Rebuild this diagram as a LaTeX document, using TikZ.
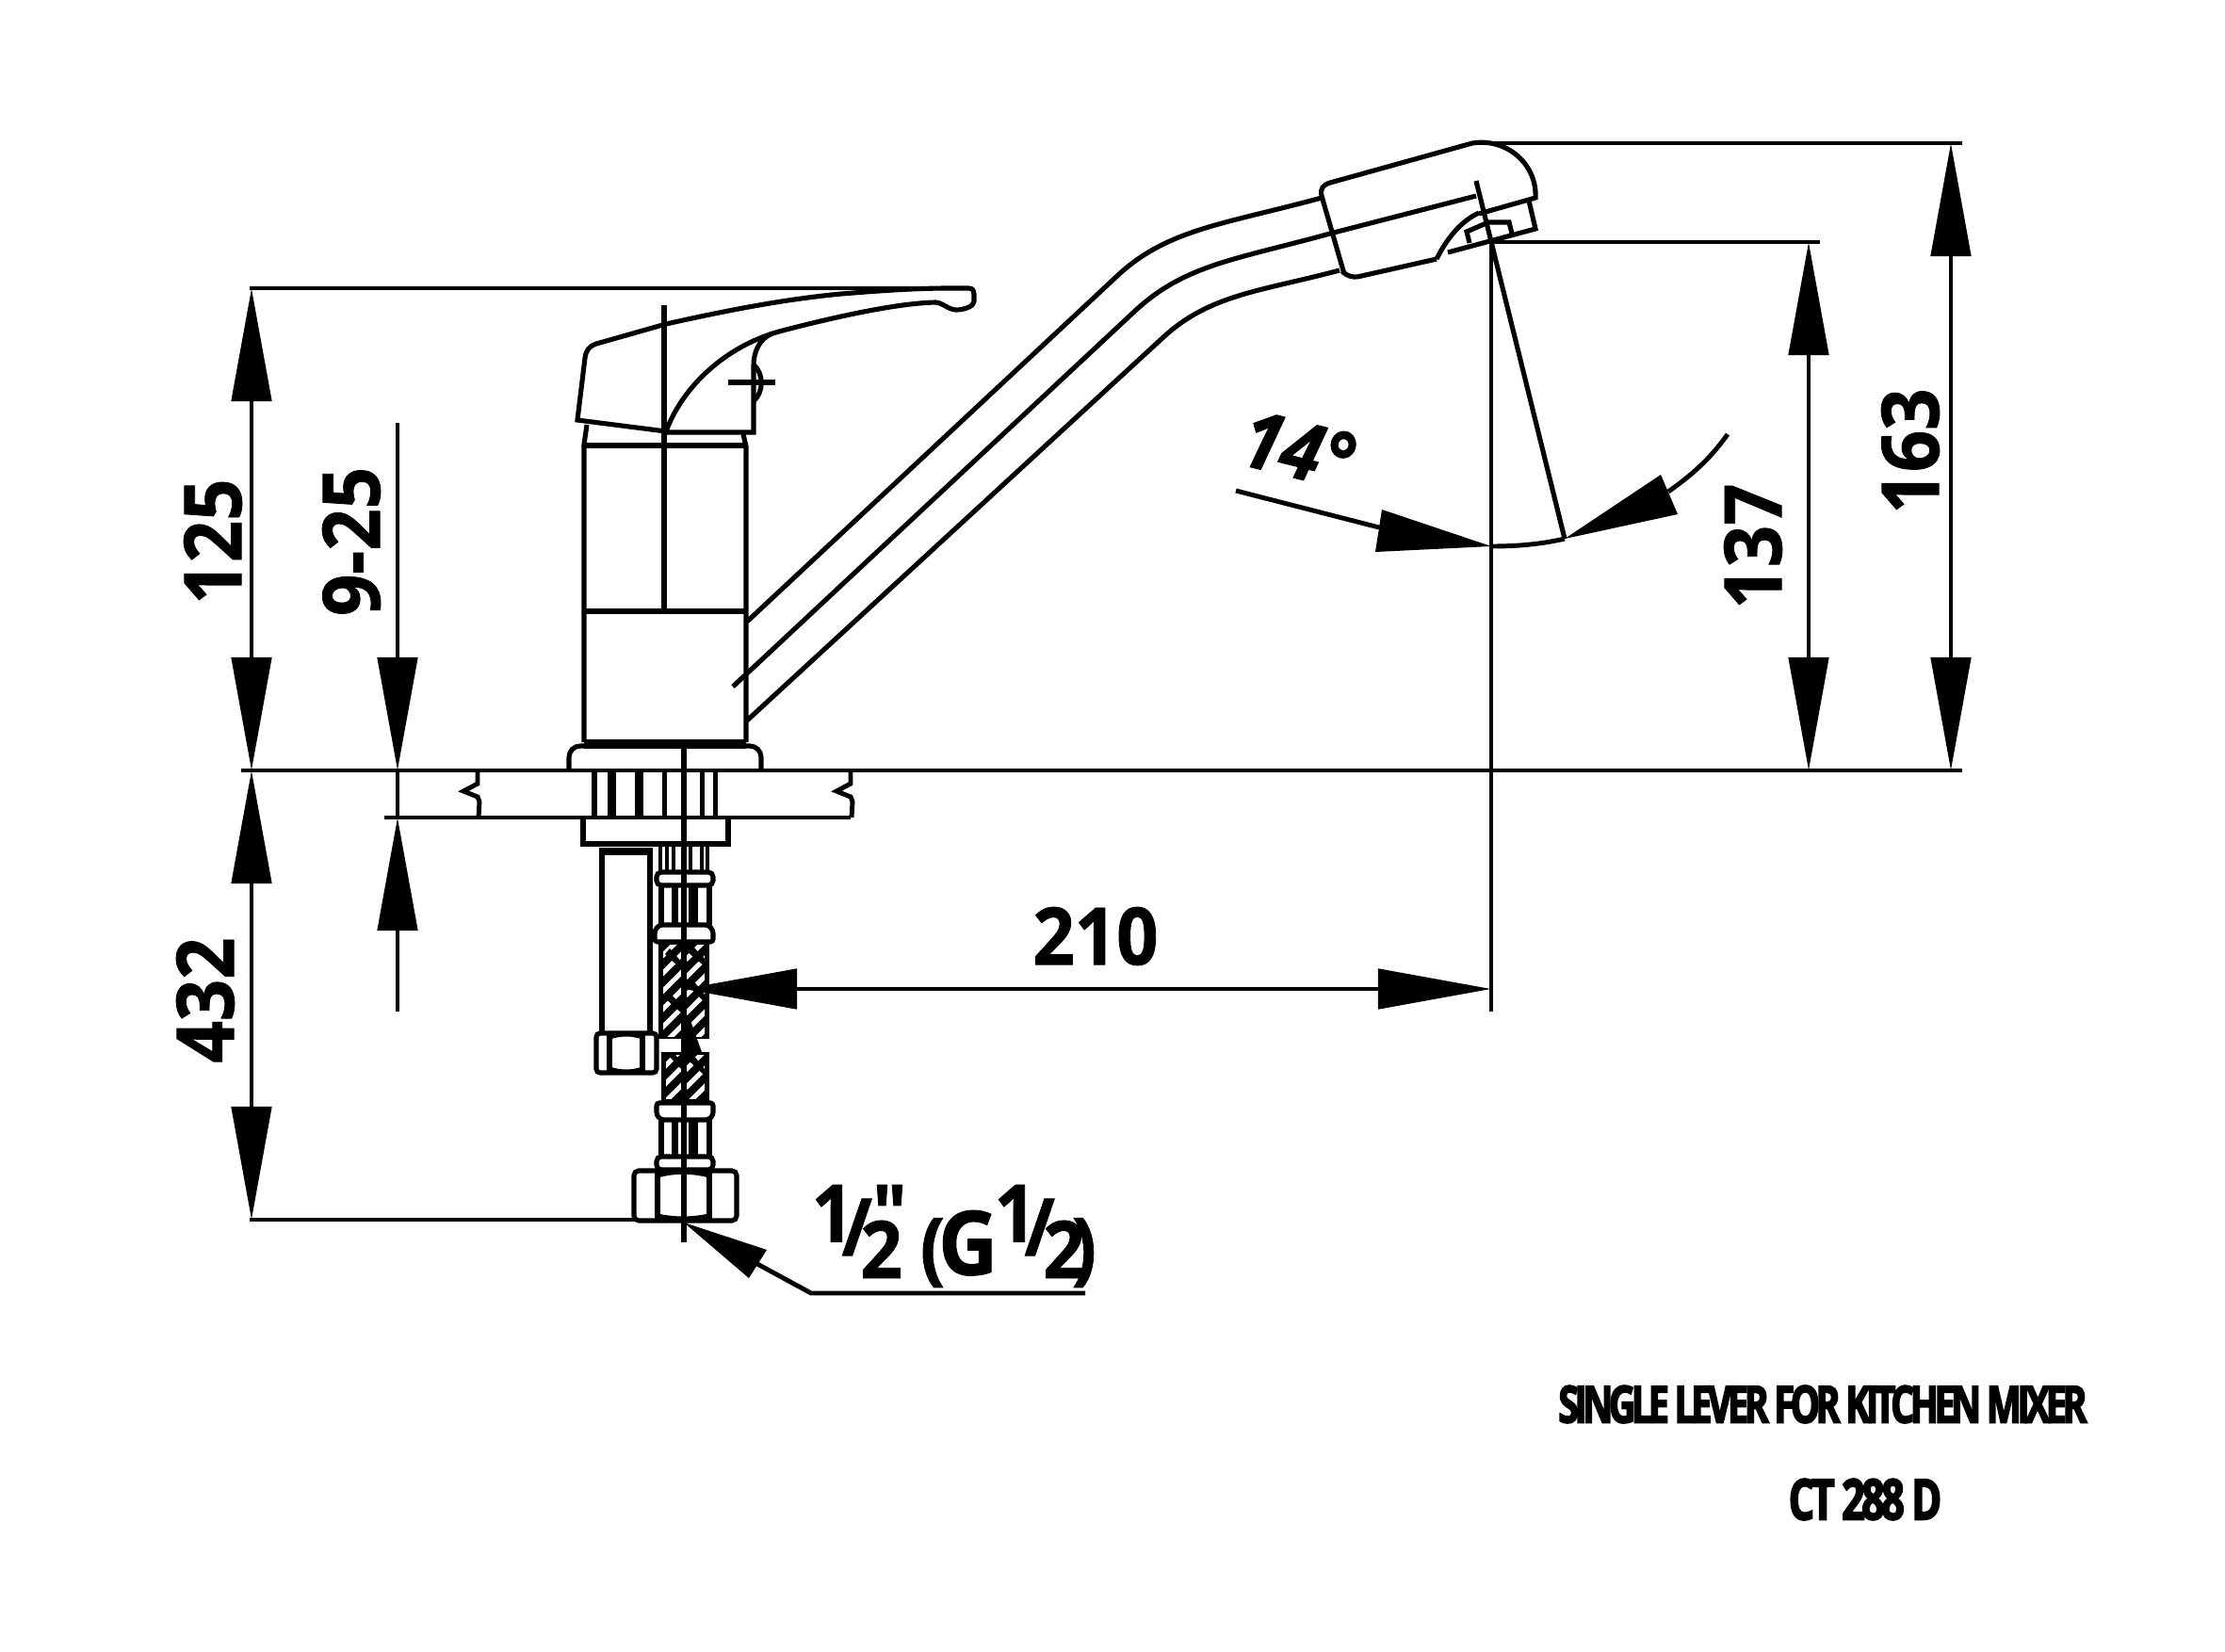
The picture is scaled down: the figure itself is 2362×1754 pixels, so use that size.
\documentclass[tikz,border=0pt]{standalone}
\usepackage{fontspec}
\usetikzlibrary{arrows.meta}
\newfontfamily\dimfont[FakeStretch=0.92,FakeBold=1]{Open Sans}
\newfontfamily\titlefont[FakeStretch=0.72,LetterSpace=-8,FakeBold=3]{Open Sans}
\newfontfamily\modelfont[FakeStretch=0.72,LetterSpace=-6,FakeBold=3]{Open Sans}
\tikzset{
  part/.style={line width=1.45pt},
  dimline/.style={line width=1.4pt},
  dimboth/.style={dimline,{Triangle[length=1.2cm,width=0.42cm]}-{Triangle[length=1.2cm,width=0.42cm]}},
  dimend/.style={dimline,-{Triangle[length=1.2cm,width=0.42cm]}},
  dimtext/.style={inner sep=0pt,font=\dimfont\bfseries\fontsize{24}{24}\selectfont},
  titletext/.style={inner sep=0pt,font=\titlefont\bfseries\fontsize{15.5}{16}\selectfont},
  modeltext/.style={inner sep=0pt,font=\modelfont\bfseries\fontsize{17}{18}\selectfont},
}
\begin{document}
\begin{tikzpicture}[x=0.01cm,y=-0.01cm]
  \useasboundingbox (0,0) rectangle (2362,1754);
  % lever
  \draw[part] (613,446) -- (621,380) .. controls (622,372) and (626,367) .. (633,365)
    -- (707,344) .. controls (770,330) and (830,318) .. (893,312) .. controls (930,309) and (970,306) .. (1007,306)
    -- (1028,306) .. controls (1033,306) and (1034,309) .. (1034,312) -- (1034,320)
    .. controls (1034,325) and (1024,329) .. (1015,329) .. controls (1007,329) and (1000,321) .. (993,321)
    .. controls (950,322) and (880,338) .. (827,352) .. controls (770,368) and (725,410) .. (707,458) -- cycle;
  \draw[part] (820,354) .. controls (805,360) and (800,375) .. (800,388) -- (800,459) -- (707,459);
  \draw[part] (800,387) .. controls (811,397) and (811,416) .. (800,426);
  \draw[part] (773,406) -- (823,406);
  \draw[part] (705,324) -- (705,649);
  % body
  \draw[part] (623,451) -- (620,472) -- (620,788);
  \draw[part] (789,461) -- (792,474) -- (792,788);
  \draw[part] (620,473) -- (792,473);
  \draw[part] (620,649) -- (792,649);
  \draw[line width=2.6pt] (620,790) -- (792,790);
  \draw[part,rounded corners=0.12cm] (604,818) -- (604,792) -- (808,792) -- (808,818);
  % spout
  \draw[part] (793,660) -- (1187,292) .. controls (1240,243) and (1300,238) .. (1403,210);
  \draw[part] (778,729) -- (1205,330) .. controls (1258,281) and (1310,276) .. (1412,248) -- (1567,208);
  \draw[part] (793,765) -- (1235,358) .. controls (1285,312) and (1340,309) .. (1422,287);
  % head
  \draw[part,rounded corners=0.1cm] (1425,288) -- (1432,296) -- (1525,275);
  \draw[part] (1403,208) -- (1427,291);
  \draw[part] (1403,208) .. controls (1401,200) and (1405,196) .. (1412,194) -- (1563,152)
    .. controls (1600,146) and (1632,175) .. (1630,210) -- (1570,227);
  \draw[part] (1525,275) .. controls (1535,255) and (1550,235) .. (1570,226);
  \draw[part] (1623,213) -- (1630,243) -- (1537,268);
  \draw[part] (1560,258) -- (1557,246) -- (1580,236) -- (1602,236) -- (1605,248);
  \draw[part] (1567,192) -- (1661,572);
  % table
  \draw[dimline] (256,818) -- (2083,818);
  \draw[dimline] (408,868) -- (903,868);
  \foreach \xa in {0,396} {
    \draw[dimline] (507+\xa,818) -- (507+\xa,832) -- (492+\xa,840) -- (507+\xa,846) -- (509+\xa,851) -- (508+\xa,868);
  }
  % thread
  \foreach \xa/\xb in {628/634,645/654,674/683,703/708,743/748,757/762} {
    \fill (\xa,818) rectangle (\xb,868);
  }
  \draw[part] (619,868) -- (619,896) -- (773,896) -- (773,868);
  % left pipe
  \fill (636,900) rectangle (693,908);
  \draw[part] (639,908) -- (639,1096);
  \draw[part] (690,908) -- (690,1096);
  \draw[part,rounded corners=0.04cm] (633,1097) rectangle (697,1139);
  \draw[part] (647,1097) -- (647,1139);
  \draw[part] (682,1097) -- (682,1139);
  \draw[part] (647,1101) .. controls (658,1097) and (672,1097) .. (682,1101);
  \draw[part] (647,1135) .. controls (658,1139) and (672,1139) .. (682,1135);
  % hose
  \foreach \xa in {701,708,715,733,745,751} {
    \draw[line width=1pt] (\xa,897) -- (\xa,926);
  }
  \draw[part,rounded corners=0.05cm] (697,926) rectangle (757,940);
  \draw[part,rounded corners=0.03cm] (695,1000) -- (695,988) -- (700,982) -- (752,982) -- (757,988) -- (757,1000) -- cycle;
  \draw[part,rounded corners=0.03cm] (697,1171) -- (757,1171) -- (757,1184) -- (752,1189) -- (702,1189) -- (697,1184) -- cycle;
  \draw[part,rounded corners=0.05cm] (697,1228) rectangle (757,1242);
  \foreach \ya/\yb in {940/982,1189/1228} {
    \draw[part] (702,\ya) -- (702,\yb);
    \draw[part] (753,\ya) -- (753,\yb);
    \fill (713,\ya) rectangle (720,\yb);
    \fill (731,\ya) rectangle (741,\yb);
  }
  % braid
  \foreach \ya/\yb/\xa/\xb/\xc in {1000/1103/699/725/753,1117/1169/702/725/753} {
    \fill (\xa,\ya) rectangle (\xb,\yb);
    \fill (728,\ya) rectangle (\xc,\yb);
    \begin{scope}
      \clip (\xa+5,\ya+3) rectangle (\xb,\yb-3);
      \foreach \y in {0,19,...,130} {
        \draw[white,line width=1.5pt] (\xa,\ya+\y) -- (\xa+30,\ya+\y-30);
      }
    \end{scope}
    \begin{scope}
      \clip (728,\ya+3) rectangle (\xc-5,\yb-3);
      \foreach \y in {0,19,...,130} {
        \draw[white,line width=1.5pt] (728,\ya+\y) -- (758,\ya+\y-30);
      }
    \end{scope}
  }
  \fill (706,1013) -- (711,1007) -- (724,1022) -- (724,1030) -- cycle;
  \fill (706,1060) -- (711,1054) -- (724,1068) -- (724,1076) -- cycle;
  \fill (729,1010) -- (735,1004) -- (748,1018) -- (748,1026) -- cycle;
  \fill (729,1045) -- (735,1040) -- (748,1056) -- (748,1064) -- cycle;
  \fill (711,1122) -- (716,1118) -- (724,1130) -- (724,1136) -- cycle;
  \fill (730,1125) -- (736,1120) -- (748,1135) -- (748,1142) -- cycle;
  \fill (724,1100) -- (731,1078) -- (745,1117) -- (724,1122) -- cycle;
  % nut
  \draw[part,rounded corners=0.05cm] (673,1243) rectangle (782,1296);
  \draw[part] (698,1243) -- (698,1296);
  \draw[part] (753,1243) -- (753,1296);
  \draw[part] (698,1248) .. controls (715,1243) and (735,1243) .. (753,1248);
  \draw[part] (698,1291) .. controls (715,1295) and (735,1295) .. (753,1291);
  \draw[part] (726,792) -- (726,1319);
  % dimension lines
  \draw[dimline] (265,306) -- (1007,306);
  \draw[dimline] (265,1295) -- (673,1295);
  \draw[dimline] (1573,152) -- (2083,152);
  \draw[dimline] (1583,257) -- (1932,257);
  \draw[dimline] (1583,257) -- (1583,1074);
  \draw[dimboth] (267,306) -- (267,818);
  \draw[dimboth] (267,818) -- (267,1295);
  \draw[dimend] (422,449) -- (422,818);
  \draw[dimend] (422,1074) -- (422,868);
  \draw[dimline] (422,818) -- (422,868);
  \draw[dimboth] (726,1050) -- (1583,1050);
  \draw[dimboth] (1920,257) -- (1920,818);
  \draw[dimboth] (2071,152) -- (2071,818);
  % 14 degrees
  \draw[dimline] (1312,521) -- (1464,560);
  \fill (1583,580) -- (1467,541) -- (1460,586) -- cycle;
  \fill (1661,572) -- (1763,504) -- (1781,546) -- cycle;
  \draw[dimline] (1583,580) .. controls (1610,580) and (1635,578) .. (1661,572);
  \draw[dimline] (1771,522) .. controls (1795,505) and (1815,488) .. (1834,461);
  % pipe size leader
  \draw[dimline] (1152,1373) -- (861,1373) -- (804,1342);
  \fill (726,1298) -- (814,1327) -- (795,1357) -- cycle;
  % labels
  \node[dimtext,rotate=90] (h125) at (226,575) {125};
  \node[dimtext,rotate=90] (h432) at (218,1062) {432};
  \node[dimtext,rotate=90] (h925) at (373,575) {9-25};
  \node[dimtext,rotate=90] (h137) at (1861,580) {137};
  \node[dimtext,rotate=90] (h163) at (2028,479) {163};
  \node[dimtext] (w210) at (1163,994) {210};
  \node[dimtext,rotate=-14] (ang) at (1378,477) {\itshape 14°};
  \node[dimtext,anchor=base west] (thread) at (861,1357) {\raisebox{11pt}{1}\kern-3.5pt\raisebox{6.8pt}{/}\kern-3.5pt2\kern-9pt\raisebox{11pt}{"}\kern4pt\raisebox{1pt}{(\kern-2pt\scalebox{1.12}{G}}\kern-1pt\raisebox{11pt}{1}\kern-3.5pt\raisebox{6.8pt}{/}\kern-3.5pt2\kern-4pt\raisebox{1pt}{)}};
  \node[titletext] (title) at (1935,1491) {SINGLE LEVER FOR KITCHEN MIXER};
  \node[modeltext] (model) at (1980,1592) {CT 288 D};
\end{tikzpicture}
\end{document}
